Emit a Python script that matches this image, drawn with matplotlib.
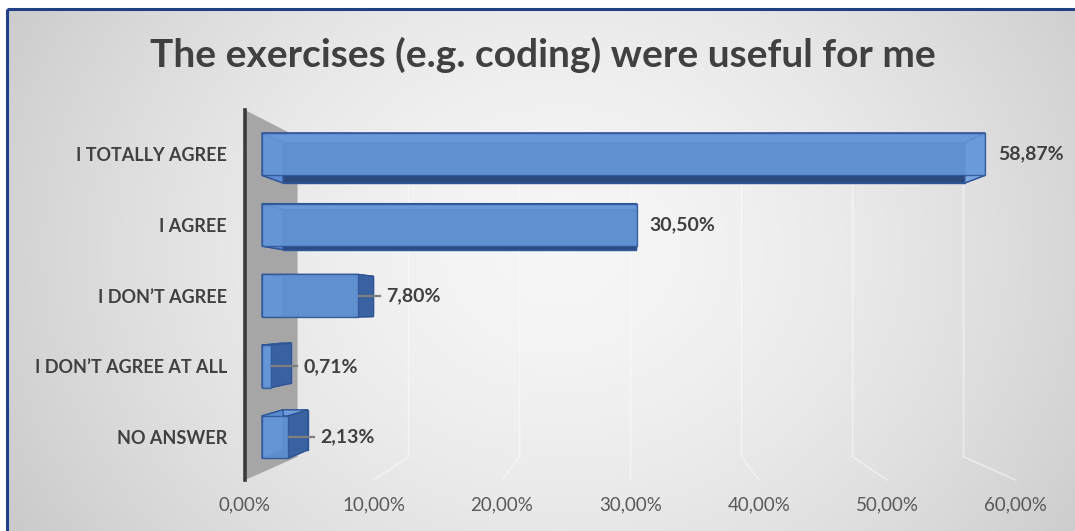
import numpy as np
import matplotlib
matplotlib.use("Agg")
import matplotlib.pyplot as plt
from matplotlib.patches import Polygon

# ---- data -------------------------------------------------------------
categories = ["I TOTALLY AGREE", "I AGREE", "I DON\u2019T AGREE",
              "I DON\u2019T AGREE AT ALL", "NO ANSWER"]
shares = [58.87, 30.50, 7.80, 0.71, 2.13]
tick_values = [0, 10, 20, 30, 40, 50, 60]
tick_labels = ["0,00%", "10,00%", "20,00%", "30,00%", "40,00%", "50,00%", "60,00%"]
title = "The exercises (e.g. coding) were useful for me"

# ---- style ------------------------------------------------------------
FONT = ["Lato", "DejaVu Sans"]
TEXT_DARK = "#404040"
TEXT_AXIS = "#595959"
W, H = 1075, 531

# simple perspective: a point (value, row) seen at depth factor k
VP = (30.13, 2.19)          # vanishing point in data units
K_FLOOR_FRONT = 1.046       # front edge of the floor / side wall
K_BAR_FRONT = 1.0
K_BAR_BACK = 0.943
K_WALL = 0.904              # back wall


def proj(v, y, k):
    return VP[0] + (v - VP[0]) * k, VP[1] + (y - VP[1]) * k


fig = plt.figure(figsize=(W / 100, H / 100), dpi=100)
fig.patch.set_facecolor("white")

# background gradient panel
bg = fig.add_axes([0, 0, 1, 1], zorder=-10)
yy, xx = np.mgrid[0:H, 0:W]
r = np.sqrt(((xx - 560) / 700.0) ** 2 + ((yy - 250) / 600.0) ** 2)
shade = np.clip(0.965 - 0.2 * r ** 1.6, 0, 1)
img = np.dstack([shade, shade, shade])
bg.imshow(img, extent=[0, W, H, 0], aspect="auto", interpolation="bilinear")
bg.set_xlim(0, W)
bg.set_ylim(H, 0)
bg.axis("off")
# white margin and dark-blue frame on the top and left
bg.fill_between([0, W], 0, 8, color="white", zorder=2)
bg.fill_betweenx([0, H], 0, 6, color="white", zorder=2)
bg.plot([7, 7], [9, H], color="#203F86", lw=2.2, zorder=3, solid_capstyle="butt")
bg.plot([7, W], [9, 9], color="#203F86", lw=2.2, zorder=3, solid_capstyle="butt")

# ---- main plot area ---------------------------------------------------
left_px, right_px, top_px, bot_px = 245, 1060, 110, 480
ax = fig.add_axes([left_px / W, 1 - bot_px / H,
                   (right_px - left_px) / W, (bot_px - top_px) / H])
ax.patch.set_alpha(0)
x_lo = proj(0, 0, K_FLOOR_FRONT)[0]
ax.set_xlim(x_lo, x_lo + (right_px - left_px) / 12.28)
ax.set_ylim(proj(0, 4.5, K_FLOOR_FRONT)[1], proj(0, -0.5, K_FLOOR_FRONT)[1])

for s in ["top", "right", "bottom"]:
    ax.spines[s].set_visible(False)
ax.spines["left"].set_color("#3A3A3A")
ax.spines["left"].set_linewidth(2.6)

rows = np.arange(len(categories))
ax.set_yticks(rows)
ax.set_yticklabels(categories, fontfamily=FONT, fontweight="bold",
                   fontsize=13, color=TEXT_DARK)
ax.tick_params(axis="y", length=0, pad=13)

ax.set_xticks([proj(t, 4.5, K_FLOOR_FRONT)[0] for t in tick_values])
ax.set_xticklabels(tick_labels, fontfamily=FONT, fontsize=13.5, color=TEXT_AXIS)
ax.tick_params(axis="x", length=0, pad=12)

# side wall at value 0
wall = [proj(0, -0.5, K_FLOOR_FRONT), proj(0, -0.5, K_WALL),
        proj(0, 4.5, K_WALL), proj(0, 4.5, K_FLOOR_FRONT)]
ax.add_patch(Polygon(wall, closed=True, facecolor="#A6A6A6",
                     edgecolor="none", zorder=1, clip_on=False))

# faint gridlines on the back wall and the floor
for t in tick_values[1:]:
    top = proj(t, -0.5, K_WALL)
    bot = proj(t, 4.5, K_WALL)
    front = proj(t, 4.5, K_FLOOR_FRONT)
    ax.plot([top[0], bot[0], front[0]], [top[1], bot[1], front[1]],
            color="white", alpha=0.45, lw=1.2, zorder=0.5, clip_on=False)

# ---- 3-D bars -----------------------------------------------------------
HALF = 0.3
EDGE = "#2F5597"
for i, v in enumerate(shares):
    y0, y1 = i - HALF, i + HALF
    F = lambda x, y: proj(x, y, K_BAR_FRONT)
    B = lambda x, y: proj(x, y, K_BAR_BACK)
    faces = [
        ([B(0, y0), B(v, y0), B(v, y1), B(0, y1)], "#3A64A8", 1.0),     # back
        ([F(0, y1), F(v, y1), B(v, y1), B(0, y1)], "#2C4A7E", 1.0),     # bottom
        ([F(0, y0), F(v, y0), B(v, y0), B(0, y0)], "#6F9CDC", 1.0),     # top
        ([F(0, y0), F(0, y1), B(0, y1), B(0, y0)], "#5B8AD0", 1.0),     # left end
        ([F(v, y0), F(v, y1), B(v, y1), B(v, y0)],
         "#7AA6E0" if v > VP[0] else "#3B62A0", 1.0),                    # right end
        ([F(0, y0), F(v, y0), F(v, y1), F(0, y1)], "#6898D8", 0.86),    # front
    ]
    for pts, col, a in faces:
        ax.add_patch(Polygon(pts, closed=True, facecolor=col, alpha=a,
                             edgecolor=EDGE, lw=1.0, zorder=3, clip_on=False))

    back_end = B(v, i)[0]
    if back_end > v:
        ax.plot([v + 0.1, back_end + 0.5], [i, i], color="#7F7F7F",
                lw=1.6, zorder=4, clip_on=False)
        lx = back_end + 1.0
    else:
        lx = v + 1.05
    ax.text(lx, i, f"{v:.2f}".replace(".", ",") + "%", ha="left", va="center",
            fontfamily=FONT, fontweight="bold", fontsize=14, color=TEXT_DARK,
            zorder=5)

# ---- title ------------------------------------------------------------
fig.text(543 / W, 1 - 67 / H, title, ha="center", va="baseline",
         fontfamily=FONT, fontweight="bold", fontsize=28, color=TEXT_DARK)

fig.savefig("out.png", dpi=100)
